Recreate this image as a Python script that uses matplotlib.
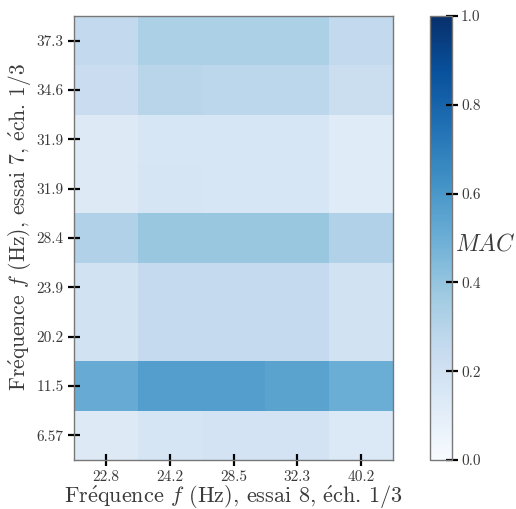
import matplotlib
matplotlib.use('Agg')
import matplotlib.pyplot as plt
import numpy as np

plt.rcParams['font.family'] = ['cmr10', 'DejaVu Serif']
plt.rcParams['mathtext.fontset'] = 'cm'
plt.rcParams['axes.unicode_minus'] = False

# MAC values, rows top -> bottom
x_labels = ['22.8', '24.2', '28.5', '32.3', '40.2']
y_labels = ['37.3', '34.6', '31.9', '31.9', '28.4', '23.9', '20.2', '11.5', '6.57']
mac = np.array([
    [0.26, 0.33, 0.33, 0.33, 0.26],
    [0.23, 0.29, 0.28, 0.28, 0.22],
    [0.13, 0.16, 0.16, 0.16, 0.12],
    [0.13, 0.17, 0.16, 0.16, 0.12],
    [0.32, 0.39, 0.39, 0.39, 0.32],
    [0.19, 0.25, 0.25, 0.25, 0.19],
    [0.19, 0.25, 0.25, 0.25, 0.19],
    [0.51, 0.57, 0.57, 0.55, 0.50],
    [0.13, 0.17, 0.18, 0.18, 0.14],
])

txt_col = '#3a3a3a'
spine_col = '#777777'
e_acute = r'$\mathrm{\acute{e}}$'   # cmr10 has no é glyph

fig = plt.figure(figsize=(5.16, 5.09), dpi=100)
ax = fig.add_axes([74/516, 49/509, 319/516, 444/509])
cax = fig.add_axes([430/516, 49/509, 22/516, 444/509])

im = ax.imshow(mac, cmap='Blues', vmin=0, vmax=1, aspect='auto', interpolation='nearest')
ax.set_xticks(np.arange(len(x_labels)))
ax.set_xticklabels(x_labels)
ax.set_yticks(np.arange(len(y_labels)))
ax.set_yticklabels(y_labels)
ax.tick_params(direction='inout', length=9, width=1.6, color='black',
               labelsize=11, labelcolor=txt_col, pad=3)
for s in ax.spines.values():
    s.set_color(spine_col)
    s.set_linewidth(1.0)

ax.set_xlabel('Fr' + e_acute + 'quence $f$ (Hz), essai 8, ' + e_acute + 'ch. 1/3',
              fontsize=16, color=txt_col, labelpad=0)
ax.set_ylabel('Fr' + e_acute + 'quence $f$ (Hz), essai 7, ' + e_acute + 'ch. 1/3',
              fontsize=15.5, color=txt_col)
ax.yaxis.set_label_coords(-0.13, 0.525)

cb = fig.colorbar(im, cax=cax)
cb.set_ticks([0, 0.2, 0.4, 0.6, 0.8, 1.0])
cb.set_ticklabels(['0.0', '0.2', '0.4', '0.6', '0.8', '1.0'])
cax.tick_params(direction='inout', length=9, width=1.6, color='black',
                labelsize=11, labelcolor=txt_col, pad=2)
cb.outline.set_edgecolor(spine_col)
cb.outline.set_linewidth(1.0)
cax.text(1.12, 0.485, '$MAC$', transform=cax.transAxes, fontsize=17,
         color=txt_col, ha='left', va='center')

plt.savefig('out.png', dpi=100)
